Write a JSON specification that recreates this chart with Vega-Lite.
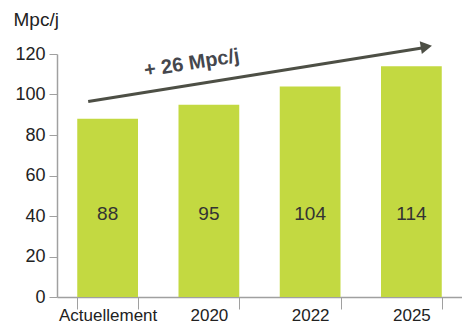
{
  "$schema": "https://vega.github.io/schema/vega-lite/v6.json",
  "autosize": "none",
  "width": 405,
  "height": 243,
  "padding": {"left": 57, "top": 54, "right": 0, "bottom": 31},
  "config": {
    "view": {"stroke": null},
    "font": "Liberation Sans",
    "axis": {"grid": false, "domainColor": "#a0a0a0", "tickColor": "#a0a0a0", "labelColor": "#222222", "labelFont": "Liberation Sans", "labelFontSize": 18, "titleFont": "Liberation Sans", "titleFontWeight": "normal", "titleColor": "#222222", "titleFontSize": 19}
  },
  "resolve": {"scale": {"x": "independent"}, "axis": {"x": "independent"}},
  "layer": [
    {
      "data": {"values": [
        {"periode": "Actuellement", "valeur": 88},
        {"periode": "2020", "valeur": 95},
        {"periode": "2022", "valeur": 104},
        {"periode": "2025", "valeur": 114}
      ]},
      "layer": [
        {
          "mark": {"type": "bar", "color": "#C3D941"},
          "encoding": {
            "x": {"field": "periode", "type": "nominal", "sort": null,
              "scale": {"paddingInner": 0.4, "paddingOuter": 0.2},
              "axis": {"title": null, "labelAngle": 0, "labelFontSize": 17, "tickBand": "extent", "tickSize": 12, "labelPadding": -2, "domainWidth": 1.5}},
            "y": {"field": "valeur", "type": "quantitative",
              "scale": {"domain": [0, 120], "nice": false},
              "axis": {"title": "Mpc/j", "titleAngle": 0, "titleAlign": "left", "titleBaseline": "top", "titleX": -44, "titleY": -44, "values": [0, 20, 40, 60, 80, 100, 120], "tickSize": 8, "labelPadding": 4, "domainWidth": 1.5}}
          }
        },
        {
          "mark": {"type": "text", "fontSize": 19, "color": "#333333", "baseline": "middle"},
          "encoding": {
            "x": {"field": "periode", "type": "nominal", "sort": null},
            "y": {"datum": 41},
            "text": {"field": "valeur", "type": "quantitative"}
          }
        }
      ]
    },
    {
      "data": {"values": [{"ax1": 0.077, "ay1": 96.5, "ax2": 0.905, "ay2": 123.1}]},
      "mark": {"type": "rule", "color": "#4d4f45", "strokeWidth": 3, "clip": false},
      "encoding": {
        "x": {"field": "ax1", "type": "quantitative", "scale": {"domain": [0, 1]}, "axis": null},
        "x2": {"field": "ax2"},
        "y": {"field": "ay1", "type": "quantitative"},
        "y2": {"field": "ay2"}
      }
    },
    {
      "data": {"values": [{"hx": 0.912, "hy": 123.6}]},
      "mark": {"type": "point", "shape": "triangle-right", "filled": true, "color": "#4d4f45", "opacity": 1, "size": 170, "angle": 350.7, "clip": false},
      "encoding": {
        "x": {"field": "hx", "type": "quantitative", "scale": {"domain": [0, 1]}, "axis": null},
        "y": {"field": "hy", "type": "quantitative"}
      }
    },
    {
      "data": {"values": [{"tx": 0.333, "ty": 115.4, "label": "+ 26 Mpc/j"}]},
      "mark": {"type": "text", "fontSize": 20, "fontWeight": "bold", "color": "#45474d", "angle": 351, "align": "center", "baseline": "middle", "clip": false},
      "encoding": {
        "x": {"field": "tx", "type": "quantitative", "scale": {"domain": [0, 1]}, "axis": null},
        "y": {"field": "ty", "type": "quantitative"},
        "text": {"field": "label"}
      }
    }
  ]
}
